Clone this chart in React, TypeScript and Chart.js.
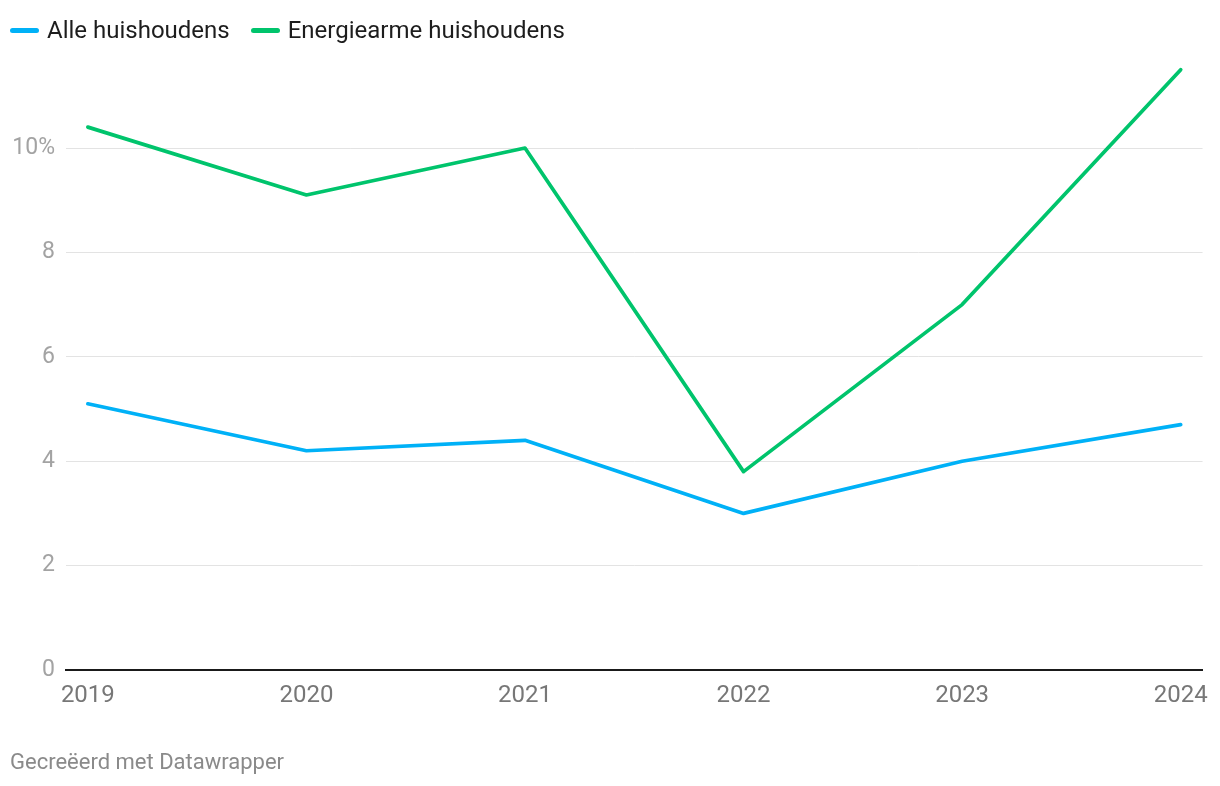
import React, { useEffect, useRef } from "react";
import { Chart, registerables } from "chart.js";

Chart.register(...registerables);

const years = [2019, 2020, 2021, 2022, 2023, 2024];
const alleHuishoudens = [5.1, 4.2, 4.4, 3.0, 4.0, 4.7];
const energiearmeHuishoudens = [10.4, 9.1, 10.0, 3.8, 7.0, 11.5];
const yTicks = [0, 2, 4, 6, 8, 10];

const BLUE = "#00b1f7";
const GREEN = "#00c46c";

export default function App() {
  const ref = useRef<HTMLCanvasElement | null>(null);

  useEffect(() => {
    document.body.style.margin = "0";
    const ctx = ref.current!.getContext("2d")!;
    const chart = new Chart(ctx, {
      type: "line",
      data: {
        datasets: [
          {
            label: "Alle huishoudens",
            data: years.map((y, i) => ({ x: y, y: alleHuishoudens[i] })),
            borderColor: BLUE,
            borderWidth: 3.7,
            pointRadius: 0,
            tension: 0,
            borderCapStyle: "round",
            borderJoinStyle: "round",
          },
          {
            label: "Energiearme huishoudens",
            data: years.map((y, i) => ({ x: y, y: energiearmeHuishoudens[i] })),
            borderColor: GREEN,
            borderWidth: 3.7,
            pointRadius: 0,
            tension: 0,
            borderCapStyle: "round",
            borderJoinStyle: "round",
          },
        ],
      },
      options: {
        animation: false,
        responsive: false,
        maintainAspectRatio: false,
        layout: { padding: { top: 64.5, right: 17, left: 0, bottom: 0 } },
        plugins: {
          legend: { display: false },
          tooltip: { enabled: false },
        },
        scales: {
          x: {
            type: "linear",
            min: 2018.9,
            max: 2024.1,
            afterBuildTicks: (s: any) => {
              s.ticks = years.map((v) => ({ value: v }));
            },
            afterFit: (s: any) => {
              s.height = 116;
            },
            grid: { display: false, drawTicks: false },
            border: { display: true, color: "#1a1a1a", width: 2 },
            ticks: {
              padding: 12,
              color: "#777777",
              font: { family: "Roboto", size: 24 },
              callback: (v: any) => String(v),
            },
          },
          y: {
            min: 0,
            max: 11.6,
            afterBuildTicks: (s: any) => {
              s.ticks = yTicks.map((v) => ({ value: v }));
            },
            afterFit: (s: any) => {
              s.width = 66;
            },
            grid: {
              drawTicks: false,
              color: (c: any) => (c.tick && c.tick.value === 0 ? "rgba(0,0,0,0)" : "#e3e3e3"),
              lineWidth: 1,
            },
            border: { display: false },
            ticks: {
              padding: 11,
              color: "#a3a3a3",
              font: { family: "Roboto", size: 23 },
              callback: (v: any) => (v === 10 ? "10%" : String(v)),
            },
          },
        },
      },
    });
    return () => chart.destroy();
  }, []);

  const legendItem = (color: string, text: string) => (
    <div style={{ display: "flex", alignItems: "center", marginRight: 21 }}>
      <div
        style={{
          width: 29,
          height: 5,
          borderRadius: 3,
          background: color,
          marginRight: 8,
        }}
      />
      <span>{text}</span>
    </div>
  );

  return (
    <div
      style={{
        position: "absolute",
        left: 0,
        top: 0,
        width: 1220,
        height: 786,
        background: "#ffffff",
        fontFamily: "Roboto, sans-serif",
      }}
    >
      <canvas ref={ref} width={1220} height={786} style={{ position: "absolute", left: 0, top: 0 }} />
      <div
        style={{
          position: "absolute",
          left: 10,
          top: 15,
          display: "flex",
          fontSize: 24,
          color: "#1d1d1d",
          lineHeight: "30px",
        }}
      >
        {legendItem(BLUE, "Alle huishoudens")}
        {legendItem(GREEN, "Energiearme huishoudens")}
      </div>
      <div
        style={{
          position: "absolute",
          left: 10,
          top: 748,
          fontSize: 22,
          color: "#8a8a8a",
          lineHeight: "28px",
        }}
      >
        Gecreëerd met Datawrapper
      </div>
    </div>
  );
}
